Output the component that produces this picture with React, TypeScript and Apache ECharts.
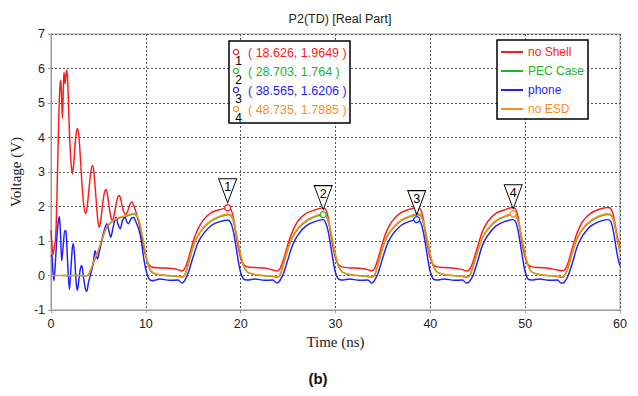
import React, { useEffect, useRef } from "react";
import * as echarts from "echarts";

// ---------- data ----------
const seriesNames = ["no Shell", "PEC Case", "phone", "no ESD"];
const seriesColors = ["#ff1a1a", "#22b422", "#1e1eff", "#ff8c1a"];

// early transient (0 – 8.6 ns)
const tRedEarly = [0, 0.1, 0.2, 0.3, 0.45, 0.55, 0.65, 0.75, 0.85, 0.95, 1.02, 1.1, 1.2, 1.3, 1.37, 1.48, 1.57, 1.65, 1.75, 1.85, 1.95, 2.1, 2.25, 2.4, 2.55, 2.7, 2.8, 2.95, 3.1, 3.3, 3.5, 3.66, 3.8, 4.0, 4.2, 4.37, 4.5, 4.7, 4.9, 5.07, 5.25, 5.45, 5.65, 5.8, 5.95, 6.15, 6.35, 6.48, 6.65, 6.85, 7.05, 7.21, 7.4, 7.6, 7.88, 8.1, 8.3, 8.52];
const vRedEarly = [1.3, 0.9, 0.6, 0.75, 1.0, 1.5, 2.6, 3.8, 4.9, 5.5, 5.67, 5.3, 4.55, 5.4, 5.89, 5.56, 5.8, 5.96, 5.7, 4.9, 4.1, 3.3, 2.95, 3.25, 3.85, 4.2, 4.26, 4.0, 3.4, 2.5, 1.95, 1.8, 1.95, 2.5, 3.0, 3.19, 3.05, 2.4, 1.7, 1.4, 1.6, 2.1, 2.42, 2.49, 2.35, 1.95, 1.65, 1.6, 1.75, 2.05, 2.28, 2.32, 2.15, 1.9, 1.77, 1.88, 2.05, 2.14];

const tGreenEarly = [1.2, 2.0, 3.0, 3.7, 3.85, 4.1, 4.5, 5.0, 5.4, 5.88, 6.3, 6.76, 7.3, 7.8, 8.3];
const vGreenEarly = [0.0, 0.0, 0.0, -0.01, 0.0, 0.1, 0.38, 0.72, 1.05, 1.4, 1.52, 1.61, 1.67, 1.71, 1.75];

const tBlueEarly = [0, 0.1, 0.2, 0.3, 0.4, 0.55, 0.7, 0.88, 1.0, 1.13, 1.3, 1.45, 1.58, 1.75, 1.94, 2.1, 2.25, 2.36, 2.5, 2.65, 2.78, 2.95, 3.1, 3.24, 3.4, 3.6, 3.77, 3.95, 4.19, 4.45, 4.65, 4.9, 5.1, 5.35, 5.6, 5.88, 6.1, 6.3, 6.55, 6.86, 7.05, 7.29, 7.55, 7.81, 8.0, 8.17, 8.45];
const vBlueEarly = [0.55, 0.6, 0.1, -0.15, 0.1, 0.8, 1.4, 1.71, 1.2, 0.43, 0.9, 1.3, 1.28, 0.4, -0.41, 0.2, 0.8, 0.92, 0.5, -0.2, -0.43, -0.1, 0.2, 0.29, 0.0, -0.35, -0.46, -0.2, 0.05, 0.35, 0.72, 0.48, 0.7, 1.01, 1.3, 1.5, 1.3, 1.11, 1.4, 1.69, 1.5, 1.35, 1.6, 1.69, 1.55, 1.5, 1.65];

const tOrangeEarly = [0, 1.0, 2.0, 3.0, 3.7, 3.85, 4.1, 4.5, 5.0, 5.4, 5.88, 6.3, 6.76, 7.3, 7.8, 8.3];
const vOrangeEarly = [0.0, 0.0, 0.0, 0.0, -0.01, 0.0, 0.1, 0.4, 0.74, 1.07, 1.42, 1.54, 1.63, 1.69, 1.73, 1.77];

// periodic part (8.7 – 60 ns), shared time grid
const tCycle = [
  8.7, 9.0, 9.25, 9.5, 9.75, 10.0, 10.3, 10.7, 11.5, 12.5, 13.4, 13.8, 14.1, 14.5, 15.0, 15.5, 16.1, 16.9, 17.8,
  18.7, 19.0, 19.25, 19.5, 19.75, 20.0, 20.3, 20.7, 21.5, 22.5, 23.4, 23.8, 24.1, 24.5, 25.0, 25.5, 26.1, 26.9, 27.8,
  28.7, 29.0, 29.25, 29.5, 29.75, 30.0, 30.3, 30.7, 31.5, 32.5, 33.4, 33.8, 34.1, 34.5, 35.0, 35.5, 36.1, 36.9, 37.8,
  38.7, 39.0, 39.25, 39.5, 39.75, 40.0, 40.3, 40.7, 41.5, 42.5, 43.4, 43.8, 44.1, 44.5, 45.0, 45.5, 46.1, 46.9, 47.8,
  48.7, 49.0, 49.25, 49.5, 49.75, 50.0, 50.3, 50.7, 51.5, 52.5, 53.4, 53.8, 54.1, 54.5, 55.0, 55.5, 56.1, 56.9, 57.8,
  58.7, 59.0, 59.25, 59.5, 59.75, 60.0,
];
const vRedCycle = [
  2.05, 1.8, 1.55, 1.2, 0.85, 0.55, 0.32, 0.24, 0.22, 0.21, 0.17, 0.13, 0.2, 0.5, 1.0, 1.35, 1.62, 1.82, 1.91,
  1.96, 1.9, 1.65, 1.2, 0.8, 0.5, 0.32, 0.25, 0.23, 0.22, 0.16, 0.13, 0.18, 0.45, 0.92, 1.3, 1.6, 1.8, 1.9,
  1.96, 1.9, 1.65, 1.2, 0.8, 0.5, 0.32, 0.25, 0.22, 0.21, 0.17, 0.13, 0.2, 0.5, 0.98, 1.35, 1.62, 1.82, 1.92,
  1.96, 1.9, 1.65, 1.2, 0.8, 0.5, 0.32, 0.25, 0.23, 0.21, 0.17, 0.13, 0.16, 0.4, 0.85, 1.28, 1.58, 1.8, 1.9,
  1.97, 1.92, 1.7, 1.25, 0.82, 0.52, 0.32, 0.25, 0.23, 0.21, 0.16, 0.14, 0.15, 0.35, 0.82, 1.25, 1.58, 1.8, 1.92,
  1.97, 1.95, 1.8, 1.45, 1.1, 0.82,
];
const vGreenCycle = [
  1.78, 1.74, 1.6, 1.3, 0.95, 0.58, 0.25, 0.08, 0.02, -0.01, -0.03, -0.05, 0.0, 0.35, 0.85, 1.15, 1.38, 1.58, 1.7,
  1.76, 1.72, 1.55, 1.25, 0.9, 0.58, 0.28, 0.1, 0.02, -0.01, -0.03, -0.05, -0.01, 0.3, 0.78, 1.12, 1.37, 1.57, 1.7,
  1.76, 1.72, 1.55, 1.25, 0.9, 0.58, 0.28, 0.1, 0.02, -0.01, -0.03, -0.05, 0.0, 0.33, 0.83, 1.15, 1.38, 1.58, 1.7,
  1.76, 1.72, 1.55, 1.25, 0.9, 0.58, 0.28, 0.1, 0.02, -0.01, -0.03, -0.05, -0.02, 0.25, 0.7, 1.1, 1.35, 1.57, 1.7,
  1.77, 1.73, 1.58, 1.28, 0.92, 0.6, 0.28, 0.1, 0.02, -0.01, -0.03, -0.05, -0.03, 0.2, 0.68, 1.08, 1.35, 1.57, 1.71,
  1.77, 1.76, 1.65, 1.38, 1.0, 0.68,
];
const vBlueCycle = [
  1.68, 1.52, 1.35, 1.05, 0.55, 0.18, -0.08, -0.15, -0.1, -0.14, -0.13, -0.22, -0.15, 0.1, 0.55, 0.95, 1.22, 1.45, 1.56,
  1.6, 1.5, 1.25, 0.85, 0.42, 0.08, -0.1, -0.13, -0.1, -0.14, -0.13, -0.22, -0.16, 0.05, 0.48, 0.9, 1.2, 1.44, 1.56,
  1.62, 1.5, 1.25, 0.85, 0.42, 0.08, -0.1, -0.13, -0.1, -0.14, -0.13, -0.22, -0.15, 0.08, 0.53, 0.93, 1.22, 1.45, 1.57,
  1.62, 1.52, 1.28, 0.88, 0.45, 0.1, -0.1, -0.13, -0.1, -0.14, -0.13, -0.22, -0.18, 0.0, 0.42, 0.88, 1.18, 1.43, 1.56,
  1.62, 1.55, 1.3, 0.9, 0.47, 0.1, -0.1, -0.13, -0.1, -0.14, -0.13, -0.22, -0.2, -0.02, 0.38, 0.85, 1.17, 1.43, 1.56,
  1.62, 1.58, 1.35, 0.95, 0.55, 0.28,
];
const vOrangeCycle = [
  1.8, 1.76, 1.63, 1.33, 0.98, 0.61, 0.27, 0.09, 0.02, 0.0, -0.02, -0.04, 0.01, 0.37, 0.87, 1.17, 1.4, 1.6, 1.72,
  1.78, 1.75, 1.58, 1.28, 0.93, 0.61, 0.3, 0.11, 0.03, 0.0, -0.02, -0.04, 0.0, 0.32, 0.8, 1.14, 1.39, 1.59, 1.72,
  1.78, 1.75, 1.58, 1.28, 0.93, 0.61, 0.3, 0.11, 0.03, 0.0, -0.02, -0.04, 0.01, 0.35, 0.85, 1.17, 1.4, 1.6, 1.72,
  1.79, 1.76, 1.58, 1.28, 0.93, 0.61, 0.3, 0.11, 0.03, 0.0, -0.02, -0.04, -0.01, 0.27, 0.72, 1.12, 1.37, 1.59, 1.72,
  1.79, 1.76, 1.61, 1.31, 0.95, 0.63, 0.3, 0.11, 0.03, 0.0, -0.02, -0.04, -0.02, 0.22, 0.7, 1.1, 1.37, 1.59, 1.73,
  1.79, 1.78, 1.68, 1.41, 1.03, 0.72,
];

// markers 1..4 (time ns, voltage V) and the series each one sits on
const markerTimes = [18.626, 28.703, 38.565, 48.735];
const markerValues = [1.9649, 1.764, 1.6206, 1.7885];
const markerSeries = [0, 1, 2, 3];

const xTicks = [0, 10, 20, 30, 40, 50, 60];
const yTicks = [-1, 0, 1, 2, 3, 4, 5, 6, 7];

// ---------- helpers ----------
const zip = (t: number[], v: number[]) => t.map((x, i) => [x, v[i]]);

const seriesData = [
  [...zip(tRedEarly, vRedEarly), ...zip(tCycle, vRedCycle)],
  [...zip(tGreenEarly, vGreenEarly), ...zip(tCycle, vGreenCycle)],
  [...zip(tBlueEarly, vBlueEarly), ...zip(tCycle, vBlueCycle)],
  [...zip(tOrangeEarly, vOrangeEarly), ...zip(tCycle, vOrangeCycle)],
];

const SANS = "'Liberation Sans', Arial, sans-serif";
const SERIF = "'Liberation Serif', 'Times New Roman', serif";

export default function App() {
  const ref = useRef<HTMLDivElement>(null);

  useEffect(() => {
    document.body.style.margin = "0";
    if (!ref.current) return;
    const chart = echarts.init(ref.current, null, { renderer: "svg" });

    const series = seriesNames.map((name, si) => {
      const marks: any[] = [];
      markerSeries.forEach((s, mi) => {
        if (s !== si) return;
        const coord = [markerTimes[mi], markerValues[mi]];
        marks.push({
          coord,
          symbol: "path://M0,0L18,0L9,24Z",
          symbolSize: [18, 24],
          symbolOffset: [0, -17],
          itemStyle: { color: "#fff", borderColor: "#000", borderWidth: 1 },
          label: {
            show: true,
            formatter: String(mi + 1),
            position: "inside",
            offset: [0, -4],
            color: "#000",
            fontSize: 12.5,
            fontFamily: SANS,
          },
        });
        marks.push({
          coord,
          symbol: "circle",
          symbolSize: 6,
          itemStyle: { color: "#fff", borderColor: seriesColors[si], borderWidth: 1.3 },
          label: { show: false },
        });
      });
      return {
        name,
        type: "line",
        data: seriesData[si],
        showSymbol: false,
        smooth: 0.3,
        color: seriesColors[si],
        lineStyle: { width: 1.45, color: seriesColors[si] },
        z: 2 + si,
        markPoint: marks.length ? { data: marks, z: 10, animation: false } : undefined,
      };
    });

    const rowGap = 19;
    const tableGraphics: any[] = [
      {
        type: "rect",
        shape: { x: 229, y: 41, width: 121, height: 82 },
        style: { fill: "#fff", stroke: "#000", lineWidth: 1.5 },
        z: 20,
      },
    ];
    markerTimes.forEach((t, i) => {
      const c = seriesColors[markerSeries[i]];
      const cy = 52 + i * rowGap;
      tableGraphics.push(
        {
          type: "circle",
          shape: { cx: 236, cy, r: 2.6 },
          style: { fill: "#fff", stroke: c, lineWidth: 1.2 },
          z: 21,
        },
        {
          type: "text",
          x: 238.5,
          y: cy + 8.5,
          style: {
            text: String(i + 1),
            fill: "#000",
            font: `12px ${SANS}`,
            textAlign: "center",
            textVerticalAlign: "middle",
          },
          z: 21,
        },
        {
          type: "text",
          x: 248,
          y: cy + 1,
          style: {
            text: `( ${t}, ${markerValues[i]} )`,
            fill: c,
            font: `12.5px ${SANS}`,
            textAlign: "left",
            textVerticalAlign: "middle",
          },
          z: 21,
        }
      );
    });

    chart.setOption({
      animation: false,
      backgroundColor: "#fff",
      title: {
        text: "P2(TD) [Real Part]",
        left: 335,
        top: 7,
        textAlign: "center",
        textStyle: { fontFamily: SANS, fontSize: 12.5, fontWeight: "normal", color: "#222" },
      },
      legend: {
        orient: "vertical",
        left: 497,
        top: 40,
        selectedMode: false,
        backgroundColor: "#fff",
        borderColor: "#000",
        borderWidth: 1.5,
        borderRadius: 0,
        padding: [5, 4, 3, 4],
        itemWidth: 22,
        itemHeight: 2,
        itemGap: 5,
        icon: "rect",
        textStyle: { fontFamily: SANS, fontSize: 12, lineHeight: 14 },
        data: seriesNames.map((n, i) => ({ name: n, textStyle: { color: seriesColors[i] } })),
        z: 20,
      },
      grid: {
        left: 51,
        right: 18,
        top: 34,
        bottom: 86,
        show: true,
        borderColor: "#9a9a9a",
        borderWidth: 1,
      },
      xAxis: {
        type: "value",
        min: xTicks[0],
        max: xTicks[xTicks.length - 1],
        interval: 10,
        name: "Time (ns)",
        nameLocation: "middle",
        nameGap: 21,
        nameTextStyle: { fontFamily: SERIF, fontSize: 15, color: "#222" },
        axisLine: { show: true, onZero: false, lineStyle: { color: "#9a9a9a", width: 1 } },
        axisTick: { show: true, length: 3, lineStyle: { color: "#9a9a9a" } },
        axisLabel: { fontFamily: SANS, fontSize: 12.5, color: "#222", margin: 7 },
        splitLine: { show: true, lineStyle: { color: "#555", type: [2, 2], width: 1 } },
      },
      yAxis: {
        type: "value",
        min: yTicks[0],
        max: yTicks[yTicks.length - 1],
        interval: 1,
        name: "Voltage (V)",
        nameLocation: "middle",
        nameGap: 21,
        nameTextStyle: { fontFamily: SERIF, fontSize: 15, color: "#222" },
        axisLine: { show: true, onZero: false, lineStyle: { color: "#9a9a9a", width: 1 } },
        axisTick: { show: true, length: 3, lineStyle: { color: "#9a9a9a" } },
        axisLabel: { fontFamily: SANS, fontSize: 12.5, color: "#222", margin: 6 },
        splitLine: { show: true, lineStyle: { color: "#555", type: [2, 2], width: 1 } },
      },
      graphic: [
        ...tableGraphics,
        {
          type: "text",
          x: 318,
          y: 378,
          style: {
            text: "(b)",
            fill: "#111",
            font: `bold 15px ${SANS}`,
            textAlign: "center",
            textVerticalAlign: "middle",
          },
        },
      ],
      series,
    });

    return () => chart.dispose();
  }, []);

  return <div ref={ref} style={{ width: 638, height: 396 }} />;
}
